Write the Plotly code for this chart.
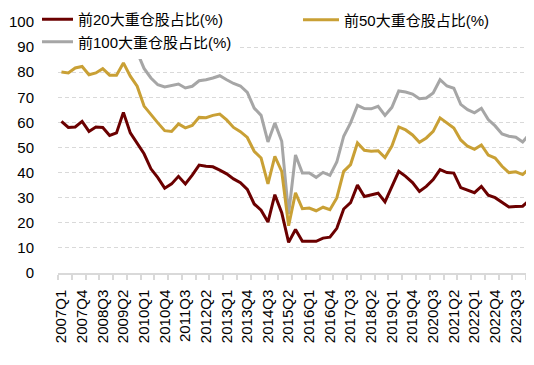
import plotly.graph_objects as go

quarters = [f"{y}Q{q}" for y in range(2007, 2025) for q in range(1, 5)][:69]

top20 = [60.4, 58, 58.2, 60.4, 56.4, 58.2, 58, 54.8, 55.8, 64, 55.8, 51.5, 47.5, 41.5, 38, 33.8,
         35.5, 38.5, 35.5, 39, 43, 42.5, 42.3, 41, 39.5, 37.5, 36, 33.3, 27.5, 25, 20.3, 31.2,
         24, 12.2, 17.3, 12.6, 12.6, 12.6, 13.9, 14.3, 17.8, 25.5, 28, 35, 30.5, 31, 31.8, 28.3,
         34.5, 40.5, 38.5, 36, 32.5, 34.5, 37.2, 41.2, 40, 39.8, 34, 33, 32, 34.5, 31, 30, 28,
         26.3, 26.5, 26.6, 29]

top50 = [80.1, 79.7, 81.7, 82.3, 79, 79.7, 81.4, 78.8, 78.8, 83.7, 78.4, 74.4, 66.5, 63, 59.8, 56.7,
         56.4, 59.4, 57.8, 58.8, 62, 61.9, 62.8, 63.3, 61, 58, 56.3, 54, 48.5, 45.8, 35.5, 46.5,
         40.5, 18.8, 31.9, 25.6, 25.9, 24.8, 26.2, 25.2, 29.9, 40.5, 43.2, 51.8, 48.9, 48.5, 48.7, 46,
         50.6, 58.2, 57, 55, 52.1, 53.8, 56.4, 61.8, 59.8, 57.8, 53, 50.5, 49.3, 51, 47, 45.8, 42.5,
         40, 40.3, 39.2, 41.8]

top100 = [91.6, 92.5, 93, 93.4, 92.5, 93, 93.5, 92.5, 92.5, 94.5, 92.5, 88, 81.5, 77.7, 75, 74.1,
          74.6, 75.3, 73.7, 74.4, 76.6, 77, 77.7, 78.6, 77, 75.5, 74.5, 72, 65.7, 62.8, 52.2, 59.8,
          52.5, 23.5, 47, 39.8, 39.8, 38.1, 40.1, 38.9, 44.2, 54.5, 59.8, 66.8, 65.5, 65.4, 66.4, 62.8,
          66, 72.5, 72.1, 71.3, 69.4, 69.7, 71.7, 77, 74.5, 73.6, 67.2, 65.1, 63.8, 65.6, 61.1, 58.6,
          55.4, 54.5, 54.1, 52.2, 55.4]

names = ["前20大重仓股占比(%)", "前50大重仓股占比(%)", "前100大重仓股占比(%)"]
colors = ["#6B0000", "#C9A035", "#A6A6A6"]

x = list(range(len(quarters)))
label_idx = list(range(0, len(quarters), 3))[:23]

W, H = 534, 365
ML, MR, MT, MB = 2, 9, 2, 100
pw = W - ML - MR
ph = H - MT - MB


def px_x(p):
    return (p - ML) / pw


def px_y(p):
    return 1 - (p - MT) / ph


fig = go.Figure()
# drawing / legend order: 100 (legend), 50 (legend2), 20 (legend3, drawn last on top)
fig.add_trace(go.Scatter(x=x, y=top100, mode="lines", name=names[2],
                         line=dict(color=colors[2], width=3), legend="legend"))
fig.add_trace(go.Scatter(x=x, y=top50, mode="lines", name=names[1],
                         line=dict(color=colors[1], width=3), legend="legend2"))
fig.add_trace(go.Scatter(x=x, y=top20, mode="lines", name=names[0],
                         line=dict(color=colors[0], width=3), legend="legend3"))

font_family = "Liberation Sans, Arial, Noto Sans CJK SC"
leg_common = dict(bgcolor="white", borderwidth=0, font=dict(size=15, color="black", family=font_family),
                  xanchor="left", yanchor="top", tracegroupgap=0, orientation="v")

fig.update_layout(
    width=W, height=H,
    margin=dict(l=ML, r=MR, t=MT, b=MB, autoexpand=False),
    paper_bgcolor="white", plot_bgcolor="white",
    font=dict(family=font_family, size=15, color="black"),
    showlegend=True,
    legend=dict(x=px_x(29), y=px_y(17.5), itemwidth=31, **leg_common),
    legend2=dict(x=px_x(290), y=px_y(-4.5), itemwidth=36, **leg_common),
    legend3=dict(x=px_x(29), y=px_y(-5), itemwidth=31, **leg_common),
    xaxis=dict(
        domain=[px_x(50), 1],
        range=[-0.5, len(quarters) - 0.5],
        tickmode="array", tickvals=label_idx, ticktext=[quarters[i] for i in label_idx],
        tickangle=-90, ticks="outside", ticklen=9, tickcolor="rgba(0,0,0,0)",
        tickfont=dict(size=15, color="black"),
        showgrid=False, zeroline=False, automargin=False,
        showline=True, linecolor="#D9D9D9", linewidth=1.5,
        minor=dict(tick0=-0.5, dtick=2, ticks="outside", ticklen=5,
                   tickcolor="#D9D9D9", tickwidth=1.5, showgrid=False),
    ),
    yaxis=dict(
        domain=[0, px_y(14)],
        range=[0, 100], tickmode="linear", tick0=0, dtick=10,
        showgrid=True, gridcolor="#D9D9D9", griddash="4px,3px", gridwidth=1,
        zeroline=False, showline=False, ticks="outside", ticklen=20,
        tickcolor="rgba(0,0,0,0)", automargin=False,
        tickfont=dict(size=15, color="black"),
    ),
)

fig.write_html("out.html")
